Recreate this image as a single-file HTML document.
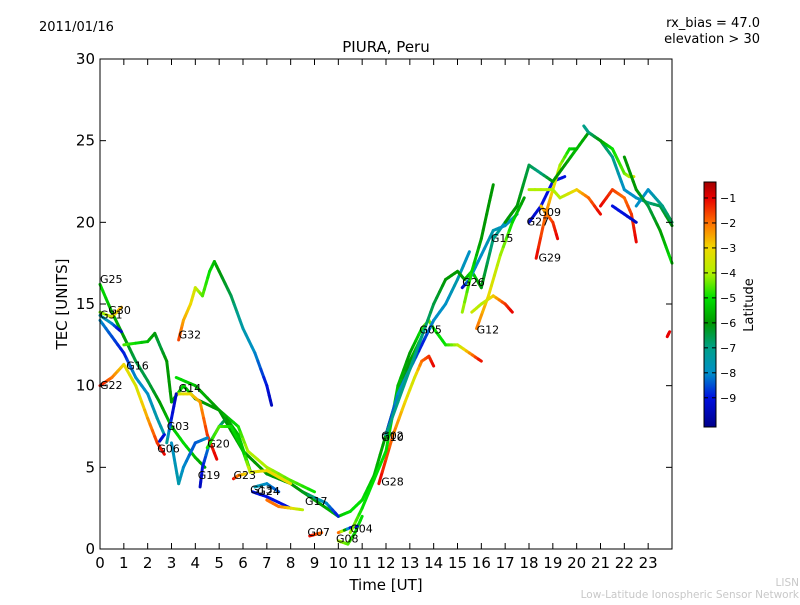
<!DOCTYPE html>
<html><head><meta charset="utf-8"><style>
body{margin:0;background:#fff;}
svg text{font-family:"DejaVu Sans","Liberation Sans",sans-serif;}
</style></head><body>
<svg id="chart" width="800" height="600" xmlns="http://www.w3.org/2000/svg">
<rect width="800" height="600" fill="#fff"/>
<text x="39" y="31" font-size="13">2011/01/16</text>
<text x="760" y="27" font-size="13" text-anchor="end">rx_bias = 47.0</text>
<text x="760" y="43" font-size="13" text-anchor="end">elevation &gt; 30</text>
<text x="386" y="52" font-size="15" text-anchor="middle">PIURA, Peru</text>
<g id="plot"></g>
<rect x="100" y="59" width="572" height="490" fill="none" stroke="#000" stroke-width="1"/>
<g id="axes"></g>
<text x="386" y="590" font-size="15" text-anchor="middle">Time [UT]</text>
<text x="67" y="304" font-size="15" text-anchor="middle" transform="rotate(-90 67 304)">TEC [UNITS]</text>
<defs><linearGradient id="cmap" x1="0" y1="1" x2="0" y2="0"></linearGradient></defs>
<rect x="704" y="182" width="12" height="245" fill="url(#cmap)" stroke="#000" stroke-width="1"/>
<g id="cbticks"></g>
<text x="753" y="305" font-size="13" text-anchor="middle" transform="rotate(-90 753 305)">Latitude</text>
<text x="799" y="586" font-size="10.5" fill="#c8c8c8" text-anchor="end">LISN</text>
<text x="799" y="598" font-size="10.5" fill="#c8c8c8" text-anchor="end">Low-Latitude Ionospheric Sensor Network</text>
</svg>
<script>
// Data: each track is [time(h), TEC, latitude]
const tracks = [
 [[0,16.2,-5],[0.5,14.5,-5.5],[1,13,-6],[1.5,11.5,-6.5],[2,10.3,-6.5],[2.5,9,-6],[3,7.5,-5.5],[3.5,6.5,-5],[4,5.6,-5.5],[4.4,5,-6]],
 [[0,14.5,-4.5],[0.5,14.2,-3.5],[0.9,14.8,-2.5]],
 [[0,14.3,-7.5],[0.5,13.8,-8],[0.9,13.3,-9.5]],
 [[0,14,-8],[0.5,13,-8.5],[1,12,-9],[1.5,10.5,-8],[2,9.5,-8],[2.4,8,-7.5],[2.7,7,-7.5]],
 [[0,10,-1],[0.5,10.5,-2],[1,11.3,-3],[1.5,10,-3.5],[2,8,-2.5],[2.4,6.5,-1.5],[2.7,5.8,-1]],
 [[1,12.5,-4.5],[2,12.7,-5.5],[2.3,13.2,-6],[2.5,12.5,-6.5],[2.8,11.5,-6],[3,9,-6],[3.5,10,-5],[4,9.2,-6],[5,8.5,-6],[6,6,-6],[7,4.6,-6],[8,4,-6],[9,3,-6],[10,2,-5.5],[10.5,2.3,-5],[11,3,-5],[11.5,4.5,-5.5],[12,7,-6],[12.5,9.5,-6.5],[13,11.5,-6],[13.5,13,-5]],
 [[3.3,12.8,-1.5],[3.5,14,-2.5],[3.8,15,-3],[4,16,-3.5],[4.3,15.5,-4.5],[4.6,17,-5],[4.8,17.6,-5.5],[5,17,-6],[5.5,15.5,-6.5],[6,13.5,-7.5],[6.5,12,-8],[7,10,-9],[7.2,8.8,-9.5]],
 [[3.2,9.5,-3.5],[3.8,9.5,-3],[4.2,9,-2.5],[4.5,7,-1.5],[4.9,5.5,-1]],
 [[3.2,10.5,-5],[4,10,-5.5],[5,8.5,-6],[5.8,7.5,-5],[6.2,6,-4],[7,5,-4],[8,4.2,-4.5],[9,3.5,-5]],
 [[2.8,6.5,-7],[3,8,-9],[3.2,9.5,-9.5]],
 [[3,6.5,-8],[3.3,4,-7.5],[3.5,5,-8],[4,6.5,-8.5],[4.5,6.8,-8]],
 [[2.5,6.6,-9.5],[2.7,7,-9]],
 [[4.2,3.8,-9.5],[4.3,5,-9],[4.6,6.5,-8],[5,7.5,-7.5],[5.3,8,-6],[5.8,7,-5.5],[6.3,4.8,-5]],
 [[4.5,6.2,-5],[5,7.5,-4.5],[5.5,7.5,-5],[6,6,-5.5],[6.3,4.7,-3.5],[7,4.8,-3],[8,4,-3]],
 [[5.6,4.3,-1],[5.8,4.5,-2],[6.1,4.6,-3]],
 [[6.4,3.5,-9],[7,3.2,-9],[8,2.5,-9]],
 [[6.5,3.8,-7.5],[7,4,-8],[7.5,3.5,-8.5]],
 [[7,3,-2],[7.5,2.6,-2],[8,2.5,-3],[8.5,2.4,-4]],
 [[8.5,3.5,-6],[9.5,2.8,-8],[10,2,-9]],
 [[8.8,0.8,-1],[9.3,1,-2]],
 [[10,0.5,-4],[10.4,0.3,-4.5],[10.7,1,-5],[11,2,-5]],
 [[10,1,-1],[10.5,1.3,-9],[10.8,1.4,-9.5]],
 [[11.7,4,-1],[12.3,7,-2],[12.8,9,-3],[13.2,10.5,-3.5],[13.5,11.5,-2],[13.8,11.8,-1.5],[14,11.2,-1]],
 [[10.5,1,-4],[11,2.5,-5],[12,6,-5],[12.5,10,-5.5],[13,12,-6],[13.5,13.5,-5],[13.8,14,-4],[14,13.5,-5],[14.5,12.5,-5],[15,12.5,-4],[15.5,12,-2.5],[16,11.5,-1]],
 [[12,7,-9],[12.5,9.5,-8],[13,11,-8],[13.5,12.5,-9],[14,14,-8],[14.5,15,-8],[15,16.5,-7.5],[15.5,18.2,-8]],
 [[12,7,-7],[13,11,-7],[13.5,13,-7],[14,15,-6.5],[14.5,16.5,-6],[15,17,-6],[15.3,16.5,-6],[15.6,17,-5],[16,16,-6],[16.5,19,-7],[17,20,-7.5],[17.5,21,-6]],
 [[15.2,16,-9.5],[15.5,16.5,-8],[16,18,-8],[16.5,19.5,-7.5],[17,19.8,-8],[17.5,20.5,-7.5]],
 [[15.2,14.5,-4],[15.6,17,-5],[16,19,-6],[16.3,21,-6],[16.5,22.3,-6]],
 [[15.8,13.5,-2],[16.3,15.5,-3],[16.8,18,-4],[17.3,20,-5],[17.8,21.5,-6]],
 [[15.6,14.5,-3.5],[16,15,-4],[16.5,15.5,-3],[17,15,-1.5],[17.3,14.5,-1]],
 [[18,20,-9.5],[18.5,21,-9],[19,22.5,-9],[19.5,22.8,-9]],
 [[18.3,17.8,-1],[18.7,20.5,-2],[19,22,-3],[19.3,23.5,-4],[19.7,24.5,-5],[20,24.5,-5.5]],
 [[18.5,21,-3],[19,20,-1.5],[19.2,19,-1]],
 [[17,20,-6],[17.5,21,-6],[18,23.5,-6.5],[18.5,23,-7],[19,22.5,-6],[19.5,23.5,-6],[20,24.5,-5.5],[20.5,25.5,-6],[21,25,-6.5],[21.5,24,-7],[22,22,-8],[22.5,21.5,-8],[23,21.2,-7],[23.5,21,-6.5],[24,19.8,-6]],
 [[20.3,25.9,-7],[20.5,25.5,-7],[21,25,-6],[21.5,24.5,-5],[22,23,-4.5],[22.2,22.8,-4],[22.4,22.8,-3.5]],
 [[18,22,-4],[19,22,-4],[19.3,21.5,-4],[20,22,-3],[20.5,21.5,-2],[21,20.5,-1]],
 [[21,21,-1],[21.5,22,-1.5],[22,21.5,-2],[22.3,20.5,-1.5],[22.5,18.8,-1]],
 [[21.5,21,-9],[22,20.5,-9],[22.5,20,-9.5]],
 [[22.5,21,-8],[23,22,-8],[23.3,21.5,-7.5],[23.6,21,-7],[24,20,-6.5]],
 [[22,24,-6],[22.5,22,-6],[23,21,-6.5],[23.5,19.5,-6],[24,17.5,-5]],
 [[23.8,13,-1],[23.9,13.3,-1]]
];
const labelNames = ["G25","G30","G31","G16","G22","G14","G32","G03","G06","G19","G20","G23","G13","G24","G17","G07","G08","G04","G02","G10","G28","G05","G26","G12","G15","G27","G09","G29"];
const labelT = [0,0.35,0,1.1,0,3.3,3.3,2.8,2.4,4.1,4.5,5.6,6.3,6.6,8.6,8.7,9.9,10.5,11.8,11.8,11.8,13.4,15.2,15.8,16.4,17.9,18.4,18.4];
const labelV = [16.3,14.4,14.1,11,9.8,9.6,12.9,7.3,5.9,4.3,6.2,4.3,3.4,3.3,2.7,0.8,0.4,1.0,6.7,6.6,3.9,13.2,16.1,13.2,18.8,19.8,20.4,17.6];
const yTicks=[0,5,10,15,20,25,30];
const xTicks=[0,1,2,3,4,5,6,7,8,9,10,11,12,13,14,15,16,17,18,19,20,21,22,23];
const cbTicks=[-1,-2,-3,-4,-5,-6,-7,-8,-9];

const NS="http://www.w3.org/2000/svg";
const X=t=>100+t*572/24, Y=v=>549-v*490/30;
const CBV0=-10.17, CBV1=-0.36, CBY=v=>427-(v-CBV0)/(CBV1-CBV0)*245;
const stopV=[-10.17,-9,-8,-7,-6,-5,-4,-3,-2,-1,-0.36];
const stopC=[[0,0,138],[0,16,224],[0,144,200],[0,160,136],[0,152,0],[0,224,0],[176,240,0],[240,216,0],[255,112,0],[232,0,0],[160,0,0]];
function cmap(v){v=Math.max(CBV0,Math.min(CBV1,v));
 for(let i=0;i<stopV.length-1;i++){if(v<=stopV[i+1]){const f=(v-stopV[i])/(stopV[i+1]-stopV[i]);
  const c=stopC[i].map((a,k)=>Math.round(a+(stopC[i+1][k]-a)*f));return `rgb(${c})`;}}
 return `rgb(${stopC[stopC.length-1]})`;}
const grad=document.getElementById('cmap');
stopV.forEach((v,i)=>{const s=document.createElementNS(NS,'stop');s.setAttribute('offset',(v-CBV0)/(CBV1-CBV0));s.setAttribute('stop-color',`rgb(${stopC[i]})`);grad.appendChild(s);});
const plot=document.getElementById('plot');
tracks.forEach((tr,ti)=>{
 const g=document.createElementNS(NS,'g');
 
 
 for(let i=0;i<tr.length-1;i++){const a=tr[i],b=tr[i+1];
  for(let k=0;k<4;k++){const f0=k/4,f1=(k+1)/4;
   const l=document.createElementNS(NS,'line');
   l.setAttribute('x1',X(a[0]+(b[0]-a[0])*f0));l.setAttribute('y1',Y(a[1]+(b[1]-a[1])*f0));
   l.setAttribute('x2',X(a[0]+(b[0]-a[0])*f1));l.setAttribute('y2',Y(a[1]+(b[1]-a[1])*f1));
   l.setAttribute('stroke',cmap(a[2]+(b[2]-a[2])*(f0+f1)/2));l.setAttribute('stroke-width','3');l.setAttribute('stroke-linecap','round');
   g.appendChild(l);}}
 plot.appendChild(g);});
labelNames.forEach((n,i)=>{const t=document.createElementNS(NS,'text');
 
 
 t.setAttribute('x',X(labelT[i]));t.setAttribute('y',Y(labelV[i]));t.setAttribute('font-size','11');t.textContent=n;plot.appendChild(t);});
const ax=document.getElementById('axes');
function ln(x1,y1,x2,y2){const l=document.createElementNS(NS,'line');l.setAttribute('x1',x1);l.setAttribute('y1',y1);l.setAttribute('x2',x2);l.setAttribute('y2',y2);l.setAttribute('stroke','#000');return l;}
yTicks.forEach(v=>{const y=Y(v);const l1=ln(100,y,106,y);
 
 
 ax.appendChild(l1);ax.appendChild(ln(666,y,672,y));
 const t=document.createElementNS(NS,'text');
 
 
 t.setAttribute('x',95);t.setAttribute('y',y+5);t.setAttribute('font-size','15');t.setAttribute('text-anchor','end');t.textContent=v;ax.appendChild(t);});
xTicks.forEach(v=>{const x=X(v);const l1=ln(x,549,x,543);
 
 
 ax.appendChild(l1);ax.appendChild(ln(x,59,x,65));
 const t=document.createElementNS(NS,'text');
 
 
 t.setAttribute('x',x);t.setAttribute('y',568);t.setAttribute('font-size','15');t.setAttribute('text-anchor','middle');t.textContent=v;ax.appendChild(t);});
const cb=document.getElementById('cbticks');
cbTicks.forEach(v=>{const y=CBY(v);cb.appendChild(ln(704,y,708,y));cb.appendChild(ln(712,y,716,y));
 const t=document.createElementNS(NS,'text');
 
 
 t.setAttribute('x',720);t.setAttribute('y',y+4);t.setAttribute('font-size','11');t.textContent='\u2212'+(-v);cb.appendChild(t);});
</script>
</body></html>
